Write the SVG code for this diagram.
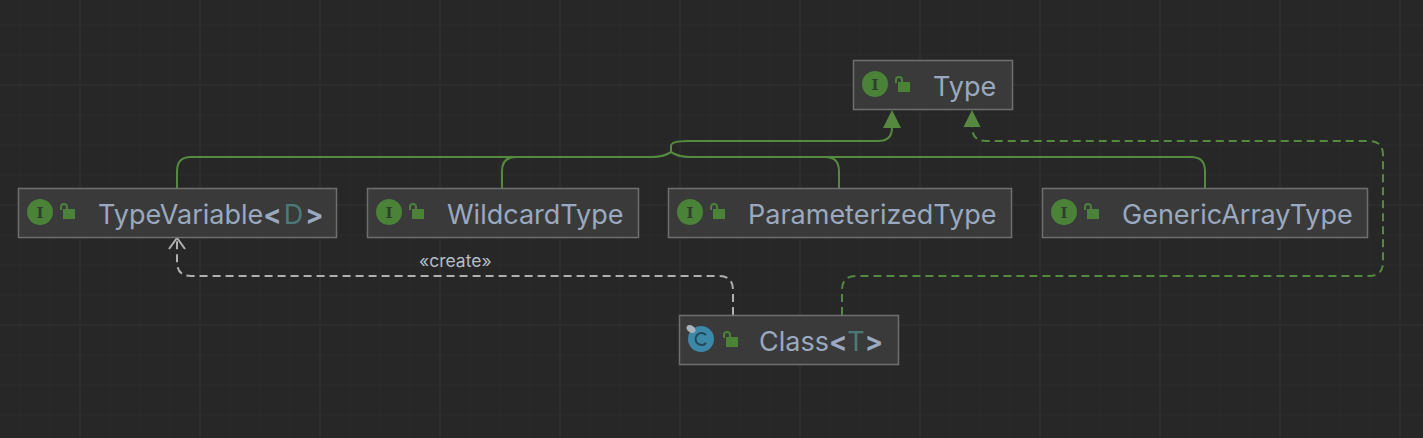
<svg xmlns="http://www.w3.org/2000/svg" width="1423" height="438" viewBox="0 0 1423 438">
<style>
.n{fill:#3a3a3a;stroke:#6f6f6f;stroke-width:1.5}
.t{font-family:Inter,"Liberation Sans",sans-serif;font-size:27px;fill:#9aa9bf}
.b{font-weight:700}
.ic{fill:#4a8238}
.il{font-family:"DejaVu Serif",serif;font-size:15px;font-weight:700;fill:#2f3f2c;text-anchor:middle}
.lk{fill:#4a8238}
.ls{fill:none;stroke:#4a8238;stroke-width:2}
.c{fill:none;stroke:#54893f;stroke-width:2}
.d{stroke-dasharray:8 5}
.w{fill:none;stroke:#b0b0b0;stroke-width:2}
.minor{stroke:#2d2d2d;stroke-width:1}
.major{stroke:#343434;stroke-width:1}
</style>
<defs>
<g id="lock"><rect class="lk" x="3" y="5" width="12" height="10"/><path class="ls" d="M1 6V3A3 3 0 0 1 7 3V5"/></g>
<g id="iface"><circle class="ic" cx="13" cy="13" r="13"/><text class="il" x="13" y="18.500">I</text></g>
</defs>
<rect width="1423" height="438" fill="#272727"/>
<g id="grid">
<path class="minor" d="M20 0V438M50 0V438M110 0V438M140 0V438M170 0V438M230 0V438M260 0V438M290 0V438M350 0V438M380 0V438M410 0V438M470 0V438M500 0V438M530 0V438M590 0V438M620 0V438M650 0V438M710 0V438M740 0V438M770 0V438M830 0V438M860 0V438M890 0V438M950 0V438M980 0V438M1010 0V438M1070 0V438M1100 0V438M1130 0V438M1190 0V438M1220 0V438M1250 0V438M1310 0V438M1340 0V438M1370 0V438M0 25H1423M0 55H1423M0 115H1423M0 145H1423M0 175H1423M0 235H1423M0 265H1423M0 295H1423M0 355H1423M0 385H1423M0 415H1423"/>
<path class="major" d="M80 0V438M200 0V438M320 0V438M440 0V438M560 0V438M680 0V438M800 0V438M920 0V438M1040 0V438M1160 0V438M1280 0V438M1400 0V438M0 85H1423M0 205H1423M0 325H1423"/>
</g>
<g id="connectors">
<path class="c" d="M177 188V171Q177 157 191 157H652Q664 157 671 152V146Q671 141 688 141H878Q892 141 892 128"/>
<path class="c" d="M502 188V171Q502 157 516 157H652Q664 157 671 152"/>
<path class="c" d="M839 188V171Q839 157 825 157H690Q678 157 671 152"/>
<path class="c" d="M1205 188V171Q1205 157 1191 157H690Q678 157 671 152"/>
<path d="M892 110L901 128H883Z" fill="#54893f"/>
<path class="c d" d="M842 315V290Q842 276 856 276H1369Q1383 276 1383 262V155Q1383 141 1369 141H986Q972 141 972 127"/>
<path d="M972 110L980.500 127H963.500Z" fill="#54893f"/>
<path class="w d" d="M733 315V290Q733 276 719 276H191Q177 276 177 262V239"/>
<path class="w" d="M169 249L177 238L185 249"/>
<text x="419" y="267" font-family="Inter,sans-serif" font-size="17.500" fill="#b4bcc6">«create»</text>
</g>
<g id="node-type"><rect class="n" x="853.500" y="60.500" width="159" height="49"/><use href="#iface" x="862" y="71"/><use href="#lock" x="895" y="77"/><text class="t" x="933" y="96">Type</text></g>
<g id="node-typevariable"><rect class="n" x="18.500" y="188.500" width="318" height="49"/><use href="#iface" x="27" y="199"/><use href="#lock" x="60" y="204"/><text class="t" x="98" y="224">TypeVariable<tspan class="b">&lt;</tspan><tspan fill="#4a7a78" dx="2">D</tspan><tspan class="b" dx="2">&gt;</tspan></text></g>
<g id="node-wildcardtype"><rect class="n" x="367.500" y="188.500" width="271" height="49"/><use href="#iface" x="376" y="199"/><use href="#lock" x="409" y="204"/><text class="t" x="447" y="224">WildcardType</text></g>
<g id="node-parameterizedtype"><rect class="n" x="668.500" y="188.500" width="343" height="49"/><use href="#iface" x="677" y="199"/><use href="#lock" x="710" y="204"/><text class="t" x="748" y="224">ParameterizedType</text></g>
<g id="node-genericarraytype"><rect class="n" x="1042.500" y="188.500" width="325" height="49"/><use href="#iface" x="1051" y="199"/><use href="#lock" x="1084" y="204"/><text class="t" x="1122" y="224">GenericArrayType</text></g>
<g id="node-class"><rect class="n" x="679.500" y="315.500" width="219" height="49"/><circle cx="701" cy="339" r="13" fill="#3b88a8"/><path d="M706 335A6 6 0 1 0 706 343" fill="none" stroke="#23485a" stroke-width="2"/><ellipse cx="691" cy="329" rx="5" ry="3.500" fill="#a9b3bb" transform="rotate(35 691 329)"/><use href="#lock" x="723" y="332"/><text class="t" x="759" y="351">Class<tspan class="b">&lt;</tspan><tspan fill="#4a7a78">T</tspan><tspan class="b">&gt;</tspan></text></g>
</svg>
